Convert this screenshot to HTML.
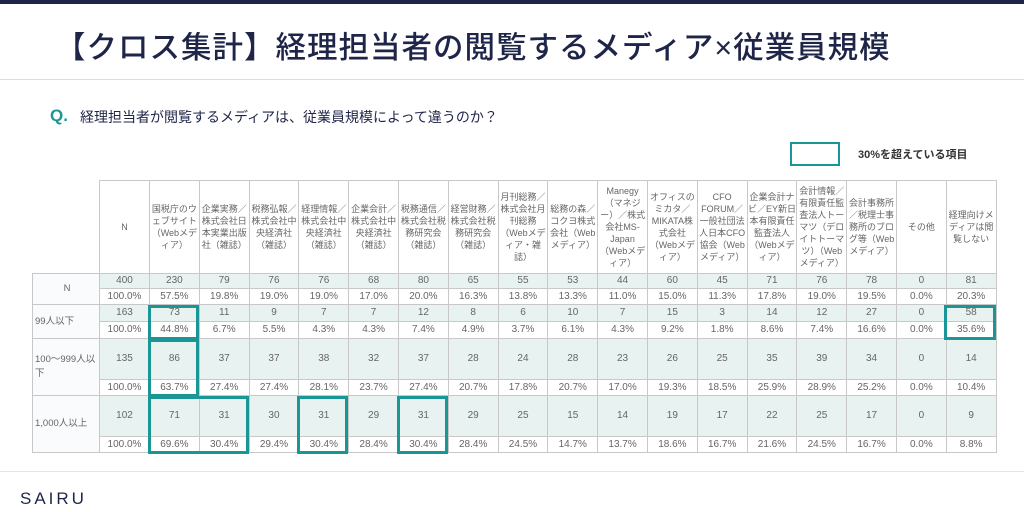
<!DOCTYPE html>
<html><head><meta charset="utf-8"><style>
body{margin:0;width:1024px;height:512px;background:#fff;position:relative;overflow:hidden;font-family:"Liberation Sans","Noto Sans CJK JP",sans-serif;color:#555}
.top{position:absolute;left:0;top:0;width:1024px;height:4px;background:#1f2548}
.title{position:absolute;left:55px;top:23px;font-size:30.5px;color:#1f2548;font-weight:500;letter-spacing:1px;white-space:nowrap}
.hl{position:absolute;left:0;top:79px;width:1024px;height:1px;background:#ddd}
.q{position:absolute;left:50px;top:106px;font-size:17px;font-weight:bold;color:#1a9696}
.qt{position:absolute;left:80px;top:107px;font-size:14px;color:#1f2548}
.leg{position:absolute;left:790px;top:142px;width:46px;height:20px;border:2px solid #1a9696}
.legt{position:absolute;left:858px;top:146px;font-size:11px;color:#333;font-weight:bold}
table{position:absolute;left:32px;top:180px;border-collapse:collapse;table-layout:fixed;font-size:10px}
td{border:1px solid #c8c8c8;text-align:center;padding:0;color:#666;line-height:14px;overflow:hidden}
.h td{height:92px;font-size:9px;line-height:12px;vertical-align:middle}
.c td{background:#e8f2f0}
.c td.lab{background:#fafbfc;text-align:left;padding-left:2px;font-size:9.5px}
.p td{background:#fff}
.s{position:absolute;border:3px solid #1a9696;box-sizing:border-box}
.fl{position:absolute;left:0;top:471px;width:1024px;height:1px;background:#e5e5e5}
.logo{position:absolute;left:20px;top:489px;font-size:17px;letter-spacing:3px;color:#1f2548}
</style></head><body>
<div class="top"></div>
<div class="title">【クロス集計】経理担当者の閲覧するメディア×従業員規模</div>
<div class="hl"></div>
<div class="q">Q.</div><div class="qt">経理担当者が閲覧するメディアは、従業員規模によって違うのか？</div>
<div class="leg"></div><div class="legt">30%を超えている項目</div>
<table>
<colgroup><col style="width:67px"><col style="width:50px"><col span="17" style="width:49.8px"></colgroup>
<tr class="h"><td style="border-top:none;border-left:none"></td><td>N</td><td>国税庁のウェブサイト（Webメディア）</td><td>企業実務／株式会社日本実業出版社（雑誌）</td><td>税務弘報／株式会社中央経済社（雑誌）</td><td>経理情報／株式会社中央経済社（雑誌）</td><td>企業会計／株式会社中央経済社（雑誌）</td><td>税務通信／株式会社税務研究会（雑誌）</td><td>経営財務／株式会社税務研究会（雑誌）</td><td>月刊総務／株式会社月刊総務（Webメディア・雑誌）</td><td>総務の森／コクヨ株式会社（Webメディア）</td><td>Manegy（マネジー）／株式会社MS-Japan（Webメディア）</td><td>オフィスのミカタ／MIKATA株式会社（Webメディア）</td><td>CFO FORUM／一般社団法人日本CFO協会（Webメディア）</td><td>企業会計ナビ／EY新日本有限責任監査法人（Webメディア）</td><td>会計情報／有限責任監査法人トーマツ（デロイトトーマツ）（Webメディア）</td><td>会計事務所／税理士事務所のブログ等（Webメディア）</td><td>その他</td><td>経理向けメディアは閲覧しない</td></tr>
<tr class="c" style="height:15px"><td class="lab" rowspan="2" style="text-align:center">N</td><td>400</td><td>230</td><td>79</td><td>76</td><td>76</td><td>68</td><td>80</td><td>65</td><td>55</td><td>53</td><td>44</td><td>60</td><td>45</td><td>71</td><td>76</td><td>78</td><td>0</td><td>81</td></tr>
<tr class="p" style="height:16px"><td>100.0%</td><td>57.5%</td><td>19.8%</td><td>19.0%</td><td>19.0%</td><td>17.0%</td><td>20.0%</td><td>16.3%</td><td>13.8%</td><td>13.3%</td><td>11.0%</td><td>15.0%</td><td>11.3%</td><td>17.8%</td><td>19.0%</td><td>19.5%</td><td>0.0%</td><td>20.3%</td></tr>
<tr class="c" style="height:17px"><td class="lab" rowspan="2">99人以下</td><td>163</td><td>73</td><td>11</td><td>9</td><td>7</td><td>7</td><td>12</td><td>8</td><td>6</td><td>10</td><td>7</td><td>15</td><td>3</td><td>14</td><td>12</td><td>27</td><td>0</td><td>58</td></tr>
<tr class="p" style="height:17px"><td>100.0%</td><td>44.8%</td><td>6.7%</td><td>5.5%</td><td>4.3%</td><td>4.3%</td><td>7.4%</td><td>4.9%</td><td>3.7%</td><td>6.1%</td><td>4.3%</td><td>9.2%</td><td>1.8%</td><td>8.6%</td><td>7.4%</td><td>16.6%</td><td>0.0%</td><td>35.6%</td></tr>
<tr class="c" style="height:41px"><td class="lab" rowspan="2">100～999人以下</td><td>135</td><td>86</td><td>37</td><td>37</td><td>38</td><td>32</td><td>37</td><td>28</td><td>24</td><td>28</td><td>23</td><td>26</td><td>25</td><td>35</td><td>39</td><td>34</td><td>0</td><td>14</td></tr>
<tr class="p" style="height:16px"><td>100.0%</td><td>63.7%</td><td>27.4%</td><td>27.4%</td><td>28.1%</td><td>23.7%</td><td>27.4%</td><td>20.7%</td><td>17.8%</td><td>20.7%</td><td>17.0%</td><td>19.3%</td><td>18.5%</td><td>25.9%</td><td>28.9%</td><td>25.2%</td><td>0.0%</td><td>10.4%</td></tr>
<tr class="c" style="height:41px"><td class="lab" rowspan="2">1,000人以上</td><td>102</td><td>71</td><td>31</td><td>30</td><td>31</td><td>29</td><td>31</td><td>29</td><td>25</td><td>15</td><td>14</td><td>19</td><td>17</td><td>22</td><td>25</td><td>17</td><td>0</td><td>9</td></tr>
<tr class="p" style="height:16px"><td>100.0%</td><td>69.6%</td><td>30.4%</td><td>29.4%</td><td>30.4%</td><td>28.4%</td><td>30.4%</td><td>28.4%</td><td>24.5%</td><td>14.7%</td><td>13.7%</td><td>18.6%</td><td>16.7%</td><td>21.6%</td><td>24.5%</td><td>16.7%</td><td>0.0%</td><td>8.8%</td></tr>
</table>
<div class="s" style="left:148px;top:305px;width:51px;height:35px"></div>
<div class="s" style="left:148px;top:339px;width:51px;height:58px"></div>
<div class="s" style="left:148px;top:396px;width:101px;height:58px"></div>
<div class="s" style="left:297px;top:396px;width:51px;height:58px"></div>
<div class="s" style="left:397px;top:396px;width:51px;height:58px"></div>
<div class="s" style="left:944px;top:305px;width:52px;height:35px"></div>
<div class="fl"></div>
<div class="logo">SAIRU</div>
</body></html>
